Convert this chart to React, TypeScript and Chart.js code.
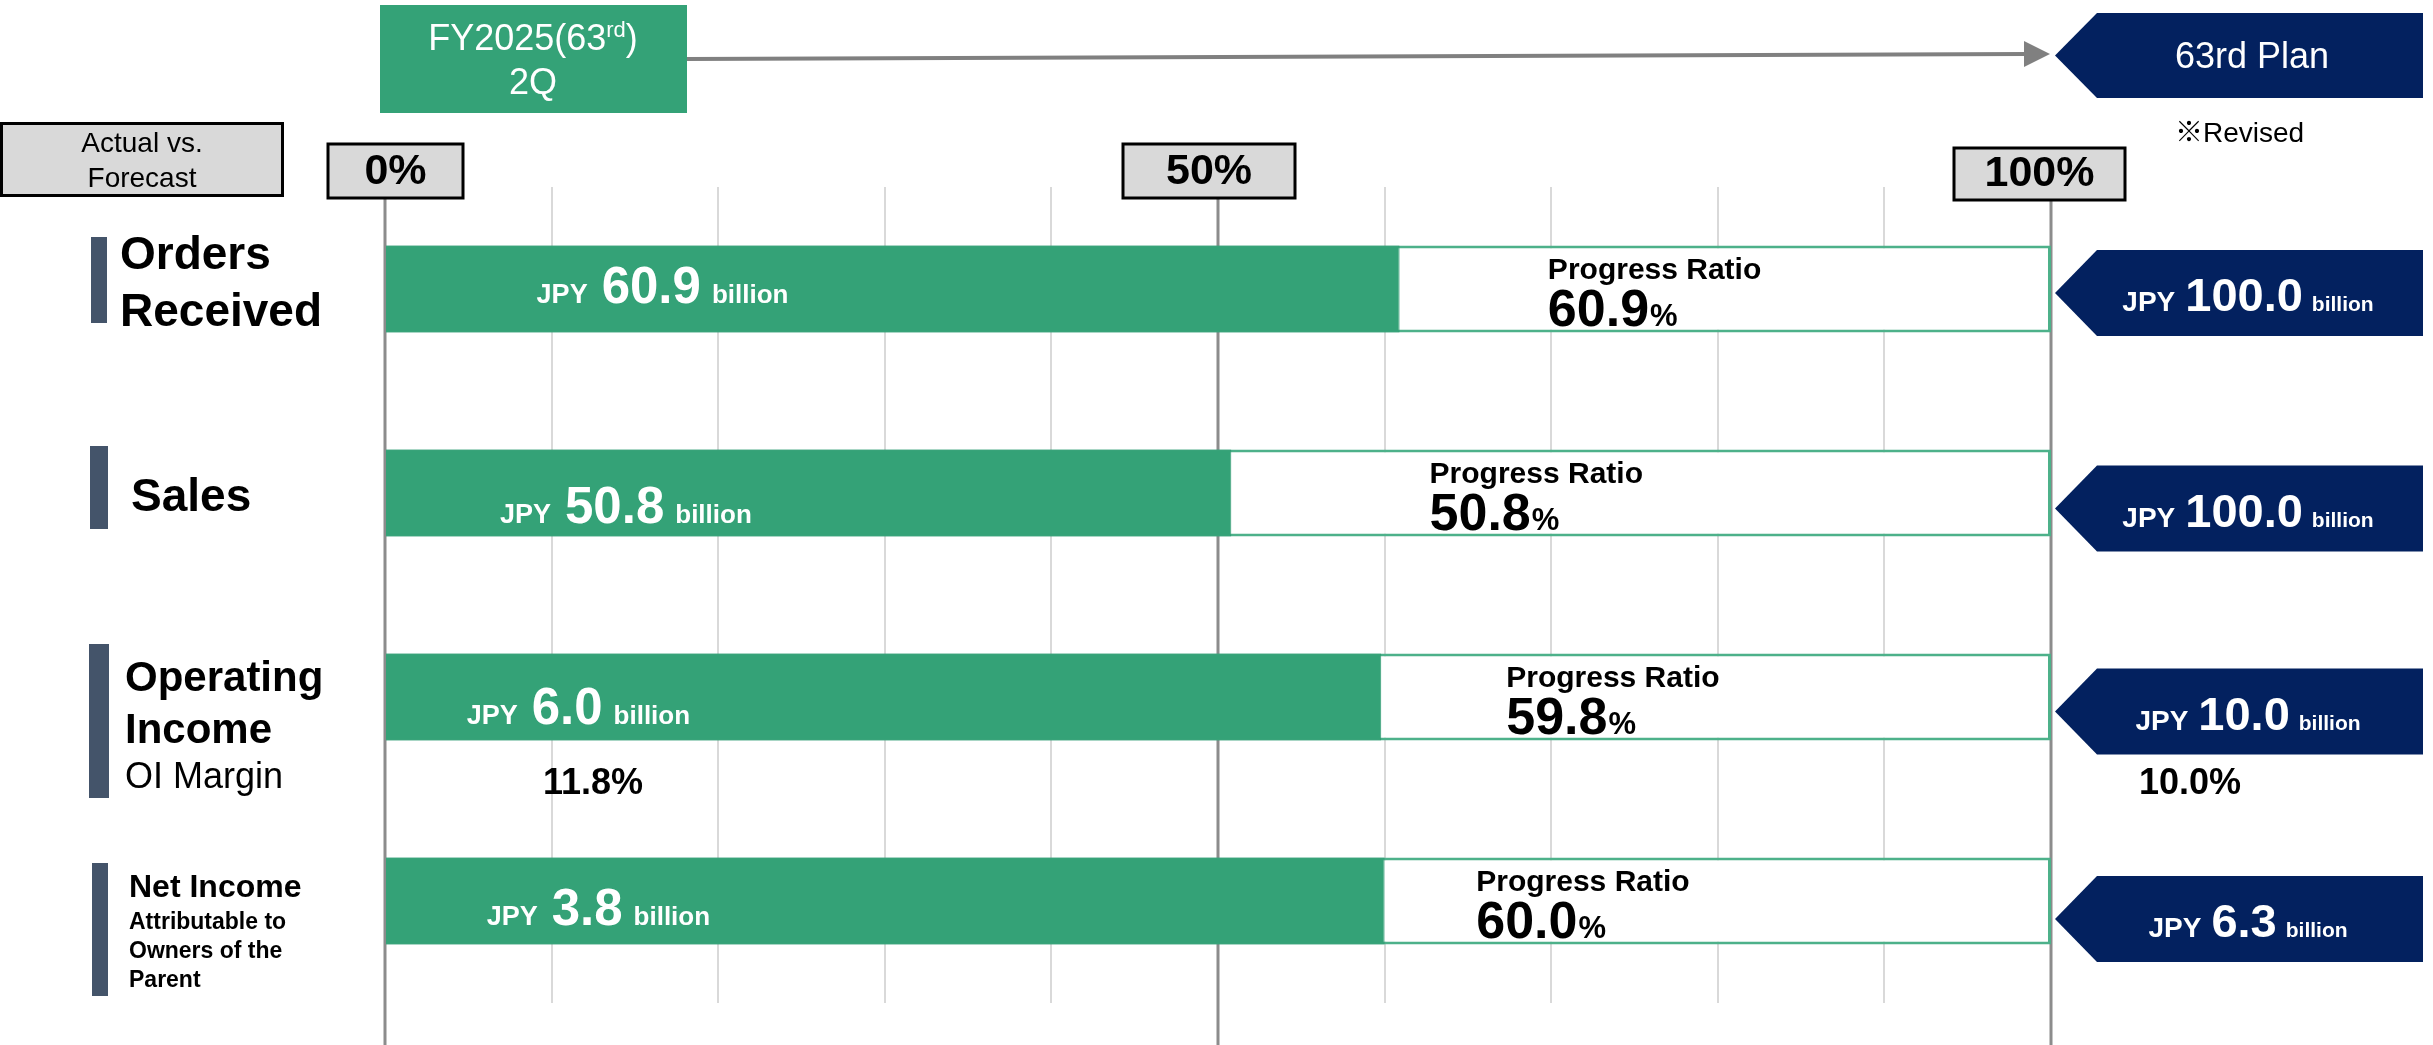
import React, { useEffect, useRef } from 'react';
import { Chart, registerables } from 'chart.js';

Chart.register(...registerables);

// ---------------- data ----------------
const categories = ['Orders Received', 'Sales', 'Operating Income', 'Net Income Attributable to Owners of the Parent'];
const actualBillion = [60.9, 50.8, 6.0, 3.8];
const planBillion = [100.0, 100.0, 10.0, 6.3];
const progressRatio = [60.9, 50.8, 59.8, 60.0];
const planRatio = [100, 100, 100, 100];
const oiMarginActual = 11.8;
const oiMarginPlan = 10.0;
const axisTickValues = [0, 50, 100];
const axisTickLabels = ['0%', '50%', '100%'];
const categoryLabelLines = [
  ['Orders', 'Received'],
  ['Sales'],
  ['Operating', 'Income', 'OI Margin'],
  ['Net Income', 'Attributable to', 'Owners of the', 'Parent'],
];

// ---------------- styles / layout ----------------
const FONT = "'Liberation Sans', Arial, 'Noto Sans CJK JP', sans-serif";
const GREEN = '#34A277';
const GREEN_EDGE = '#2F9970';
const OUTLINE = '#4DB18A';
const NAVY = '#03215F';
const SLATE = '#44546A';
const GREY_BOX = '#D9D9D9';
const AXIS_GREY = '#8C8C8C';

// per-row layout (pixel offsets relative to bar centre, x-anchors in axis % units)
const rowLayout = [
  { markerX: 91, markerW: 16, markerTop: -52, markerBot: 34, labelX: 120,
    lines: [{ dy: -20, size: 46, bold: true }, { dy: 37, size: 46, bold: true }],
    inBarX: 9.1, inBarDy: 14, progX: 69.8, planDy: 4 },
  { markerX: 90, markerW: 18, markerTop: -47, markerBot: 36, labelX: 131,
    lines: [{ dy: 18, size: 46, bold: true }],
    inBarX: 6.9, inBarDy: 30, progX: 62.7, planDy: 15.5 },
  { markerX: 89, markerW: 20, markerTop: -53, markerBot: 101, labelX: 125,
    lines: [{ dy: -6, size: 42, bold: true }, { dy: 46, size: 42, bold: true }, { dy: 91, size: 36, bold: false }],
    inBarX: 4.9, inBarDy: 27, progX: 67.3, planDy: 14.5 },
  { markerX: 92, markerW: 16, markerTop: -38, markerBot: 95, labelX: 129,
    lines: [{ dy: -4, size: 32, bold: true }, { dy: 28, size: 23, bold: true }, { dy: 57, size: 23, bold: true }, { dy: 86, size: 23, bold: true }],
    inBarX: 6.1, inBarDy: 23.5, progX: 65.5, planDy: 18 },
];
const tickBoxes = [
  { l: 328, r: 463, t: 144, b: 198 },
  { l: 1123, r: 1295, t: 144, b: 198 },
  { l: 1954, r: 2125, t: 148, b: 200 },
];

type Run = { t: string; size: number; bold?: boolean; gap?: number; dy?: number };

function fontOf(r: Run) {
  return `${r.bold ? 'bold ' : ''}${r.size}px ${FONT}`;
}

function drawRuns(ctx: CanvasRenderingContext2D, runs: Run[], x: number, y: number, align: 'left' | 'center', color: string) {
  const widths: number[] = [];
  let total = 0;
  for (const r of runs) {
    ctx.font = fontOf(r);
    const w = ctx.measureText(r.t).width;
    widths.push(w);
    total += (r.gap || 0) + w;
  }
  let cx = align === 'center' ? x - total / 2 : x;
  ctx.fillStyle = color;
  ctx.textAlign = 'left';
  ctx.textBaseline = 'alphabetic';
  runs.forEach((r, i) => {
    cx += r.gap || 0;
    ctx.font = fontOf(r);
    ctx.fillText(r.t, cx, y + (r.dy || 0));
    cx += widths[i];
  });
}

function pentagon(ctx: CanvasRenderingContext2D, tipX: number, notch: number, right: number, top: number, bottom: number, color: string) {
  const mid = (top + bottom) / 2;
  ctx.beginPath();
  ctx.moveTo(tipX, mid);
  ctx.lineTo(tipX + notch, top);
  ctx.lineTo(right, top);
  ctx.lineTo(right, bottom);
  ctx.lineTo(tipX + notch, bottom);
  ctx.closePath();
  ctx.fillStyle = color;
  ctx.fill();
}

const annotationPlugin = {
  id: 'progressAnnotations',
  beforeDatasetsDraw(chart: any) {
    const ctx: CanvasRenderingContext2D = chart.ctx;
    const xs = chart.scales.x;
    ctx.save();
    ctx.strokeStyle = AXIS_GREY;
    ctx.lineWidth = 3;
    axisTickValues.forEach((v, i) => {
      const x = xs.getPixelForValue(v);
      ctx.beginPath();
      ctx.moveTo(x, tickBoxes[i].b);
      ctx.lineTo(x, chart.height);
      ctx.stroke();
    });
    ctx.restore();
  },
  afterDatasetsDraw(chart: any) {
    const ctx: CanvasRenderingContext2D = chart.ctx;
    const xs = chart.scales.x;
    const ys = chart.scales.y;
    ctx.save();
    categories.forEach((_, i) => {
      const cy = ys.getPixelForValue(i);
      const L = rowLayout[i];
      // in-bar actual value
      drawRuns(ctx, [
        { t: 'JPY', size: 27, bold: true },
        { t: actualBillion[i].toFixed(1), size: 51, bold: true, gap: 14 },
        { t: 'billion', size: 26, bold: true, gap: 11 },
      ], xs.getPixelForValue(L.inBarX), cy + L.inBarDy, 'left', '#FFFFFF');
      // progress ratio
      const px = xs.getPixelForValue(L.progX);
      drawRuns(ctx, [{ t: 'Progress Ratio', size: 30, bold: true }], px, cy - 10, 'left', '#000000');
      drawRuns(ctx, [
        { t: progressRatio[i].toFixed(1), size: 52, bold: true },
        { t: '%', size: 31, bold: true, gap: 1 },
      ], px, cy + 37, 'left', '#000000');
    });
    ctx.restore();
  },
  afterDraw(chart: any) {
    const ctx: CanvasRenderingContext2D = chart.ctx;
    const xs = chart.scales.x;
    const ys = chart.scales.y;
    ctx.save();

    // ---- header: actual period box ----
    ctx.fillStyle = GREEN;
    ctx.fillRect(380, 5, 307, 108);
    drawRuns(ctx, [
      { t: 'FY2025(63', size: 36 },
      { t: 'rd', size: 22, dy: -13 },
      { t: ')', size: 36 },
    ], 533, 50, 'center', '#FFFFFF');
    drawRuns(ctx, [{ t: '2Q', size: 36 }], 533, 94, 'center', '#FFFFFF');

    // arrow
    ctx.strokeStyle = '#808080';
    ctx.lineWidth = 4;
    ctx.beginPath();
    ctx.moveTo(687, 59);
    ctx.lineTo(2026, 54);
    ctx.stroke();
    ctx.fillStyle = '#808080';
    ctx.beginPath();
    ctx.moveTo(2024, 41);
    ctx.lineTo(2050, 54);
    ctx.lineTo(2024, 67);
    ctx.closePath();
    ctx.fill();

    // plan header
    pentagon(ctx, 2055, 42, 2423, 13, 98, NAVY);
    drawRuns(ctx, [{ t: '63rd Plan', size: 36 }], 2252, 68, 'center', '#FFFFFF');
    drawRuns(ctx, [{ t: '※Revised', size: 28 }], 2175, 142, 'left', '#000000');

    // Actual vs. Forecast box
    ctx.fillStyle = GREY_BOX;
    ctx.fillRect(1.5, 123.5, 281, 72);
    ctx.strokeStyle = '#000000';
    ctx.lineWidth = 3;
    ctx.strokeRect(1.5, 123.5, 281, 72);
    drawRuns(ctx, [{ t: 'Actual vs.', size: 28 }], 142, 152, 'center', '#000000');
    drawRuns(ctx, [{ t: 'Forecast', size: 28 }], 142, 187, 'center', '#000000');

    // tick boxes
    axisTickLabels.forEach((lab, i) => {
      const b = tickBoxes[i];
      ctx.fillStyle = GREY_BOX;
      ctx.fillRect(b.l, b.t, b.r - b.l, b.b - b.t);
      ctx.strokeStyle = '#000000';
      ctx.lineWidth = 3;
      ctx.strokeRect(b.l, b.t, b.r - b.l, b.b - b.t);
      drawRuns(ctx, [{ t: lab, size: 43, bold: true }], (b.l + b.r) / 2, b.b - 14, 'center', '#000000');
    });

    // ---- rows ----
    categories.forEach((_, i) => {
      const cy = ys.getPixelForValue(i);
      const L = rowLayout[i];
      // left marker + labels
      ctx.fillStyle = SLATE;
      ctx.fillRect(L.markerX, cy + L.markerTop, L.markerW, L.markerBot - L.markerTop);
      categoryLabelLines[i].forEach((txt, k) => {
        const st = L.lines[k];
        drawRuns(ctx, [{ t: txt, size: st.size, bold: st.bold }], L.labelX, cy + st.dy, 'left', '#000000');
      });
      // plan pentagon
      const tip = xs.getPixelForValue(100) + 4;
      const pc = cy + L.planDy;
      pentagon(ctx, tip, 42, 2423, pc - 43, pc + 43, NAVY);
      drawRuns(ctx, [
        { t: 'JPY', size: 28, bold: true },
        { t: planBillion[i].toFixed(1), size: 47, bold: true, gap: 10 },
        { t: 'billion', size: 21, bold: true, gap: 9 },
      ], 2248, pc + 18, 'center', '#FFFFFF');
    });

    // OI margin values
    const oiY = ys.getPixelForValue(2) + 97;
    drawRuns(ctx, [{ t: oiMarginActual.toFixed(1) + '%', size: 36, bold: true }], 543, oiY, 'left', '#000000');
    drawRuns(ctx, [{ t: oiMarginPlan.toFixed(1) + '%', size: 36, bold: true }], 2139, oiY, 'left', '#000000');

    ctx.restore();
  },
};

export default function App() {
  const ref = useRef<HTMLCanvasElement>(null);
  useEffect(() => {
    const chart = new Chart(ref.current as HTMLCanvasElement, {
      type: 'bar',
      data: {
        labels: categories,
        datasets: [
          {
            label: 'Progress Ratio',
            data: progressRatio,
            backgroundColor: GREEN,
            borderColor: GREEN_EDGE,
            borderWidth: 1,
            grouped: false,
            categoryPercentage: 1,
            barPercentage: 0.426,
          } as any,
          {
            label: 'Plan',
            data: planRatio,
            backgroundColor: '#FFFFFF',
            borderColor: OUTLINE,
            borderWidth: 3,
            borderSkipped: false,
            grouped: false,
            categoryPercentage: 1,
            barPercentage: 0.426,
          } as any,
        ],
      },
      options: {
        indexAxis: 'y',
        responsive: false,
        animation: false,
        devicePixelRatio: 1,
        events: [],
        layout: { padding: { left: 385, right: 382, top: 187, bottom: 42 } },
        plugins: {
          legend: { display: false },
          tooltip: { enabled: false },
          title: { display: false },
        },
        scales: {
          x: {
            type: 'linear',
            min: 0,
            max: 100,
            ticks: { display: false, stepSize: 10 },
            grid: { color: '#D9D9D9', lineWidth: 2, drawTicks: false },
            border: { display: false },
          },
          y: { type: 'category', display: false },
        },
      },
      plugins: [annotationPlugin],
    });
    return () => chart.destroy();
  }, []);
  return (
    <div style={{ position: 'fixed', left: 0, top: 0, width: 2433, height: 1045, background: '#FFFFFF' }}>
      <canvas ref={ref} width={2433} height={1045} style={{ display: 'block' }} />
    </div>
  );
}
